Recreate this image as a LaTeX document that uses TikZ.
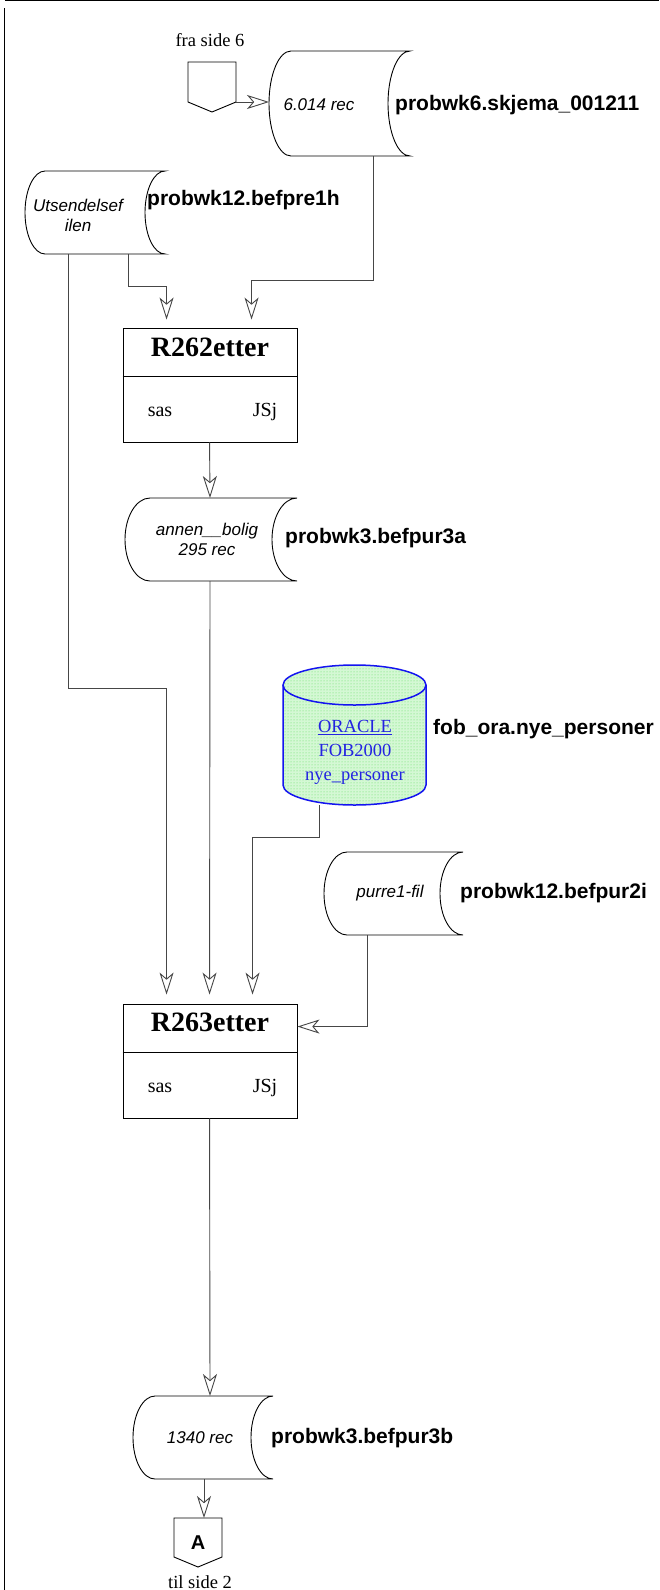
\documentclass[tikz,border=0pt]{standalone}
\usepackage{fontspec}
\setmainfont{Liberation Serif}
\setsansfont{Liberation Sans}
\usetikzlibrary{arrows.meta,patterns}
\definecolor{conncol}{RGB}{70,70,70}
\definecolor{dbblue}{RGB}{20,20,240}
\definecolor{dbtext}{RGB}{35,35,225}
\definecolor{dbfill}{RGB}{212,248,212}
\definecolor{dbdot}{RGB}{95,220,95}
\begin{document}
\begin{tikzpicture}[x=1pt,y=-1pt,
  conn/.style={draw=conncol, line width=0.9pt},
  arr/.style={conn, -{Stealth[open, length=22pt, width=14pt, inset=6pt, fill=white]}},
  shp/.style={draw=black, line width=0.9pt},
  holder/.style={draw=none, inner sep=0pt, outer sep=0pt},
  lbl/.style={font=\sffamily\bfseries\fontsize{21}{25}\selectfont, anchor=west, inner sep=0pt},
  tapetxt/.style={font=\sffamily\itshape\fontsize{17}{20}\selectfont, inner sep=0pt, align=center},
  boxtitle/.style={font=\bfseries\fontsize{28}{32}\selectfont, inner sep=0pt},
  boxtxt/.style={font=\fontsize{20}{24}\selectfont, inner sep=0pt, anchor=base},
  pagetxt/.style={font=\fontsize{18.5}{22}\selectfont, inner sep=0pt},
  dbtxt/.style={font=\fontsize{18.5}{24}\selectfont, text=dbtext, inner sep=0pt, align=center},
  conA/.style={holder, font=\sffamily\bfseries\fontsize{20}{24}\selectfont}
]
\useasboundingbox (0,0) rectangle (659,1590);

% page frame
\draw[line width=1.3pt] (5,0.7) -- (659,0.7);
\draw[line width=1.3pt] (4.5,8) -- (4.5,1590);

% ---------- off-page connector "fra side 6"
\node[holder, minimum width=48pt, minimum height=50pt] (c1) at (212,87) {};
\draw[shp] (c1.north west) -- (c1.north east) -- ([yshift=10pt]c1.south east) -- (c1.south) -- ([yshift=10pt]c1.south west) -- cycle;
\node[pagetxt] (c1t) at (210,40) {fra side 6};

% ---------- tape 1
\node[holder, minimum width=141pt, minimum height=105pt] (t1) at (339.5,103.5) {};
\draw[shp] ([xshift=22pt]t1.north west) -- (t1.north east)
  arc[start angle=90, end angle=270, x radius=22pt, y radius=52.5pt]
  -- ([xshift=22pt]t1.south west)
  arc[start angle=270, end angle=90, x radius=22pt, y radius=52.5pt] -- cycle;
\node[tapetxt] (t1t) at (319,105) {6.014 rec};
\node[lbl] (t1l) at (395,105) {probwk6.skjema\_001211};

% ---------- tape 2
\node[holder, minimum width=140pt, minimum height=83pt] (t2) at (95,212.5) {};
\draw[shp] ([xshift=20pt]t2.north west) -- (t2.north east)
  arc[start angle=90, end angle=270, x radius=20pt, y radius=41.5pt]
  -- ([xshift=20pt]t2.south west)
  arc[start angle=270, end angle=90, x radius=20pt, y radius=41.5pt] -- cycle;
\node[tapetxt] (t2t) at (78,215) {Utsendelsef\\ilen};
\node[lbl] (t2l) at (147,200) {probwk12.befpre1h};

% ---------- R262etter
\node[shp, minimum width=174pt, minimum height=114pt, inner sep=0pt] (r262) at (210,385) {};
\draw[shp] ([yshift=-49pt]r262.north west) -- ([yshift=-49pt]r262.north east);
\node[boxtitle] (r262t) at (210,347) {R262etter};
\node[boxtxt] (r262a) at (160,416) {sas};
\node[boxtxt] (r262b) at (265,416) {JSj};

% ---------- tape 3
\node[holder, minimum width=172pt, minimum height=83pt] (t3) at (211,539.5) {};
\draw[shp] ([xshift=25pt]t3.north west) -- (t3.north east)
  arc[start angle=90, end angle=270, x radius=25pt, y radius=41.5pt]
  -- ([xshift=25pt]t3.south west)
  arc[start angle=270, end angle=90, x radius=25pt, y radius=41.5pt] -- cycle;
\node[tapetxt] (t3t) at (207,539) {annen\_\_bolig\\295 rec};
\node[lbl] (t3l) at (285,538) {probwk3.befpur3a};

% ---------- database cylinder
\node[holder, minimum width=143pt, minimum height=140pt] (db) at (354.5,735) {};
\fill[dbfill] ([yshift=-20pt]db.north west) -- ([yshift=20pt]db.south west)
  arc[start angle=180, end angle=360, x radius=71.5pt, y radius=20pt]
  -- ([yshift=-20pt]db.north east)
  arc[start angle=0, end angle=180, x radius=71.5pt, y radius=20pt] -- cycle;
\fill[pattern=dots, pattern color=dbdot] ([yshift=-20pt]db.north west) -- ([yshift=20pt]db.south west)
  arc[start angle=180, end angle=360, x radius=71.5pt, y radius=20pt]
  -- ([yshift=-20pt]db.north east)
  arc[start angle=0, end angle=180, x radius=71.5pt, y radius=20pt] -- cycle;
\draw[draw=dbblue, line width=1.5pt] ([yshift=-20pt]db.north west) -- ([yshift=20pt]db.south west)
  arc[start angle=180, end angle=360, x radius=71.5pt, y radius=20pt]
  -- ([yshift=-20pt]db.north east)
  arc[start angle=0, end angle=180, x radius=71.5pt, y radius=20pt] -- cycle;
\draw[draw=dbblue, line width=1.5pt] ([yshift=-20pt]db.north west)
  arc[start angle=180, end angle=360, x radius=71.5pt, y radius=20pt];
\node[dbtxt] (dbt) at (355,752) {\underline{ORACLE}\\FOB2000\\nye\_personer};
\node[lbl] (dbl) at (433,729) {fob\_ora.nye\_personer};

% ---------- tape 4
\node[holder, minimum width=139pt, minimum height=83pt] (t4) at (393.5,893.5) {};
\draw[shp] ([xshift=23pt]t4.north west) -- (t4.north east)
  arc[start angle=90, end angle=270, x radius=23pt, y radius=41.5pt]
  -- ([xshift=23pt]t4.south west)
  arc[start angle=270, end angle=90, x radius=23pt, y radius=41.5pt] -- cycle;
\node[tapetxt] (t4t) at (390,893) {purre1-fil};
\node[lbl] (t4l) at (460,893) {probwk12.befpur2i};

% ---------- R263etter
\node[shp, minimum width=174pt, minimum height=114pt, inner sep=0pt] (r263) at (210,1061) {};
\draw[shp] ([yshift=-49pt]r263.north west) -- ([yshift=-49pt]r263.north east);
\node[boxtitle] (r263t) at (210,1022) {R263etter};
\node[boxtxt] (r263a) at (160,1092) {sas};
\node[boxtxt] (r263b) at (265,1092) {JSj};

% ---------- tape 5
\node[holder, minimum width=140pt, minimum height=83pt] (t5) at (203,1437.5) {};
\draw[shp] ([xshift=22pt]t5.north west) -- (t5.north east)
  arc[start angle=90, end angle=270, x radius=22pt, y radius=41.5pt]
  -- ([xshift=22pt]t5.south west)
  arc[start angle=270, end angle=90, x radius=22pt, y radius=41.5pt] -- cycle;
\node[tapetxt] (t5t) at (200,1438) {1340 rec};
\node[lbl] (t5l) at (271,1438) {probwk3.befpur3b};

% ---------- off-page connector A
\node[conA, minimum width=48pt, minimum height=49pt] (cA) at (198,1542.5) {A};
\draw[shp] (cA.north west) -- (cA.north east) -- ([yshift=10pt]cA.south east) -- (cA.south) -- ([yshift=10pt]cA.south west) -- cycle;
\node[pagetxt] (cAt) at (200,1582) {til side 2};

% ---------- connectors
\draw[arr] ([yshift=-15pt]c1.east) -- ([yshift=-15pt]c1.east -| t1.west);
\draw[arr] ([xshift=104pt]t1.south west) -- ++(0,124) -| ([xshift=129pt,yshift=8pt]r262.north west);
\draw[arr] ([xshift=103pt]t2.south west) -- ++(0,32) -| ([xshift=44pt,yshift=8pt]r262.north west);
\draw[arr] ([xshift=87pt]r262.south west) -- ([xshift=85pt]t3.north west);
\draw[arr] ([xshift=43pt]t2.south west) -- ++(0,434) -| ([xshift=44pt,yshift=9pt]r263.north west);
\draw[arr] ([xshift=85pt]t3.south west) -- ([xshift=87pt,yshift=9pt]r263.north west);
\draw[arr] ([xshift=-35.5pt]db.south) -- ++(0,32) -| ([xshift=130pt,yshift=9pt]r263.north west);
\draw[arr] ([xshift=43pt]t4.south west) |- ([yshift=-23pt]r263.north east);
\draw[arr] ([xshift=87pt]r263.south west) -- ([xshift=77pt]t5.north west);
\draw[arr] ([xshift=71pt]t5.south west) -- ([xshift=30pt]cA.north west);
\end{tikzpicture}
\end{document}
